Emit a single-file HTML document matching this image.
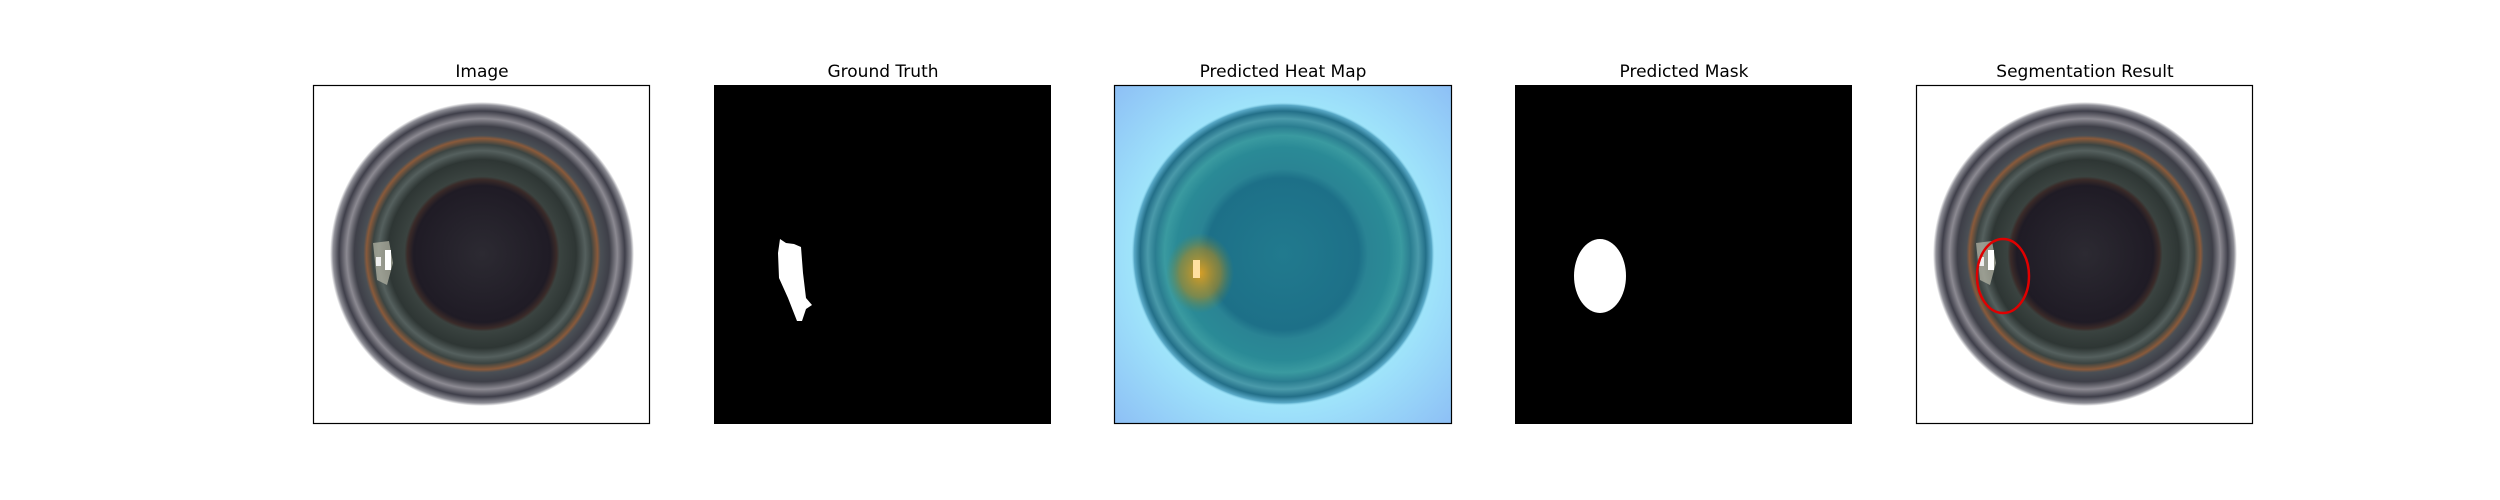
<!DOCTYPE html>
<html><head><meta charset="utf-8"><style>
html,body{margin:0;padding:0;background:#fff;width:2500px;height:500px;overflow:hidden}
svg{display:block}
text{font-family:"DejaVu Sans","Liberation Sans",sans-serif;font-size:17px;fill:#000}
</style></head><body>
<svg width="2500" height="500" viewBox="0 0 2500 500">
<defs>
<radialGradient id="bottle" cx="0.5" cy="0.5" r="0.5">
<stop offset="0" stop-color="#2c2a32"/>
<stop offset="0.45" stop-color="#1f1b25"/>
<stop offset="0.49" stop-color="#3a2a28"/>
<stop offset="0.51" stop-color="#3a4340"/>
<stop offset="0.62" stop-color="#2e3634"/>
<stop offset="0.68" stop-color="#55605e"/>
<stop offset="0.72" stop-color="#3b4442"/>
<stop offset="0.76" stop-color="#8a5a3a"/>
<stop offset="0.78" stop-color="#4a4f55"/>
<stop offset="0.84" stop-color="#3e3f48"/>
<stop offset="0.89" stop-color="#8c8a92"/>
<stop offset="0.94" stop-color="#3f3f4a"/>
<stop offset="0.98" stop-color="#8e8e96"/>
<stop offset="1" stop-color="#ffffff"/>
</radialGradient>
<radialGradient id="heatbg" cx="0.5" cy="0.5" r="0.72">
<stop offset="0.6" stop-color="#a0e6fb"/>
<stop offset="1" stop-color="#8cbdf5"/>
</radialGradient>
<radialGradient id="heat" cx="0.5" cy="0.5" r="0.5">
<stop offset="0" stop-color="#217a8e"/>
<stop offset="0.5" stop-color="#1d7088"/>
<stop offset="0.56" stop-color="#2a8494"/>
<stop offset="0.7" stop-color="#2a8a96"/>
<stop offset="0.78" stop-color="#3a9aa0"/>
<stop offset="0.84" stop-color="#2a7d90"/>
<stop offset="0.89" stop-color="#4a9aaa"/>
<stop offset="0.94" stop-color="#236f88"/>
<stop offset="0.98" stop-color="#5aaac8"/>
<stop offset="1" stop-color="#a0e6fb" stop-opacity="0"/>
</radialGradient>
<radialGradient id="hot" cx="0.5" cy="0.5" r="0.5">
<stop offset="0" stop-color="#e0a020" stop-opacity="0.95"/>
<stop offset="0.6" stop-color="#b08a20" stop-opacity="0.6"/>
<stop offset="1" stop-color="#6a8a40" stop-opacity="0"/>
</radialGradient>
</defs>

<g transform="translate(313,85)">
<text x="169" y="-8" text-anchor="middle">Image</text>
<rect x="0" y="0" width="337" height="339" fill="#fff"/>
<circle cx="169" cy="169" r="152" fill="url(#bottle)"/>
<path d="M60 158 L76 156 L80 178 L74 200 L64 195 Z" fill="#b8b8a8" opacity="0.7"/>
<rect x="72" y="165" width="6" height="20" fill="#fff"/>
<rect x="63" y="172" width="5" height="9" fill="#eee"/>
<rect x="0.5" y="0.5" width="336" height="338" fill="none" stroke="#000" stroke-width="1.2"/>
</g>

<g transform="translate(714,85)">
<text x="169" y="-8" text-anchor="middle">Ground Truth</text>
<rect x="0" y="0" width="337" height="339" fill="#000"/>
<path d="M66 154 L72 158 L80 159 L87 162 L89 188 L92 213 L98 220 L92 224 L88 236 L83 236 L74 213 L65 193 L64 168 Z" fill="#fff"/>
</g>

<g transform="translate(1114,85)">
<text x="169" y="-8" text-anchor="middle">Predicted Heat Map</text>
<rect x="0" y="0" width="338" height="339" fill="url(#heatbg)"/>
<circle cx="169" cy="169" r="152" fill="url(#heat)"/>
<ellipse cx="86" cy="188" rx="34" ry="40" fill="url(#hot)"/>
<rect x="79" y="175" width="7" height="18" fill="#ffe0a0"/>
<rect x="0.5" y="0.5" width="337" height="338" fill="none" stroke="#000" stroke-width="1.2"/>
</g>

<g transform="translate(1515,85)">
<text x="169" y="-8" text-anchor="middle">Predicted Mask</text>
<rect x="0" y="0" width="337" height="339" fill="#000"/>
<ellipse cx="85" cy="191" rx="26" ry="37" fill="#fff"/>
</g>

<g transform="translate(1916,85)">
<text x="169" y="-8" text-anchor="middle">Segmentation Result</text>
<rect x="0" y="0" width="337" height="339" fill="#fff"/>
<circle cx="169" cy="169" r="152" fill="url(#bottle)"/>
<path d="M60 158 L76 156 L80 178 L74 200 L64 195 Z" fill="#b8b8a8" opacity="0.7"/>
<rect x="72" y="165" width="6" height="20" fill="#fff"/>
<rect x="63" y="172" width="5" height="9" fill="#eee"/>
<ellipse cx="87" cy="191" rx="26" ry="37" fill="none" stroke="#e00000" stroke-width="2.5"/>
<rect x="0.5" y="0.5" width="336" height="338" fill="none" stroke="#000" stroke-width="1.2"/>
</g>
</svg>
</body></html>
